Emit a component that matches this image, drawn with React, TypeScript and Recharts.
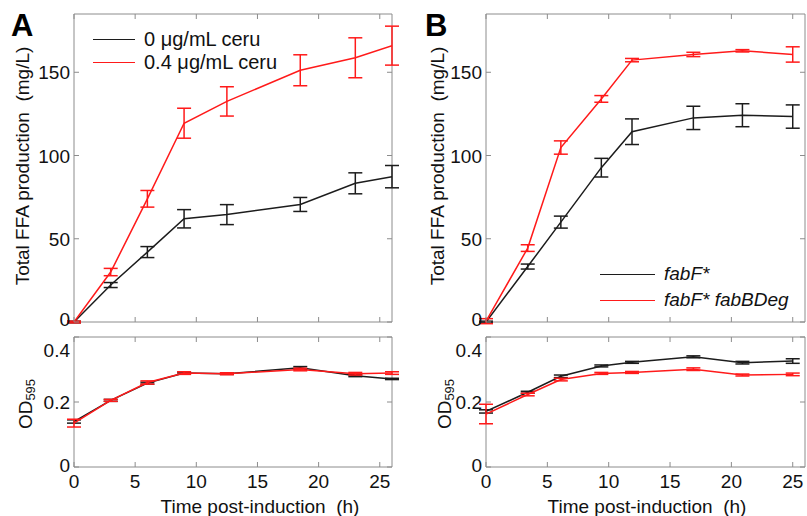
import { ErrorBar, Label, Legend, Line, LineChart, ReferenceArea, XAxis, YAxis } from "recharts";

const FONT = '"Liberation Sans", Arial, Helvetica, sans-serif';
const BOX = "#8c8c8c";
const BLACK = "#1c1c1c";
const RED = "#ff1a1a";

// panel A: cerulenin dose
const timesA = [0, 3, 6, 9, 12.5, 18.5, 23, 26];
const ffaA0 = [0, 22.2, 42, 62, 64.5, 70.6, 83.3, 87.3];
const ffaA0Err = [0.5, 1.5, 3.3, 5.5, 6, 4.2, 6.3, 6.7];
const ffaA04 = [0, 30, 74, 119.4, 132.5, 151.2, 158.7, 166];
const ffaA04Err = [0.5, 2.2, 5, 9, 8.8, 9.3, 12, 11.7];
const odA0 = [0.14, 0.205, 0.258, 0.289, 0.287, 0.305, 0.281, 0.271];
const odA0Err = [0.005, 0.003, 0.003, 0.003, 0.002, 0.004, 0.003, 0.002];
const odA04 = [0.135, 0.205, 0.26, 0.289, 0.287, 0.3, 0.287, 0.289];
const odA04Err = [0.012, 0.003, 0.005, 0.004, 0.003, 0.004, 0.004, 0.004];

// panel B: fabF* vs fabF* fabBDeg
const timesB = [0, 3.4, 6.1, 9.4, 11.9, 16.9, 20.9, 25];
const ffaB = [0, 33.3, 60, 92.7, 114.3, 122.6, 124.2, 123.4];
const ffaBErr = [0.5, 1.5, 3.6, 5.6, 7.7, 7, 6.9, 7];
const ffaBDeg = [0.5, 44.4, 104.8, 134, 157.3, 160.7, 162.9, 160.7];
const ffaBDegErr = [1.5, 2, 4, 2, 1, 1.3, 0.7, 4.6];
const odB = [0.171, 0.23, 0.279, 0.311, 0.322, 0.339, 0.321, 0.326];
const odBErr = [0.005, 0.003, 0.004, 0.003, 0.003, 0.003, 0.004, 0.007];
const odBDeg = [0.163, 0.223, 0.269, 0.288, 0.291, 0.301, 0.283, 0.285];
const odBDegErr = [0.03, 0.004, 0.004, 0.003, 0.003, 0.004, 0.003, 0.004];

const xTicks = [0, 5, 10, 15, 20, 25];
const ffaTicks = [0, 50, 100, 150];
const odTicks = [0, 0.2, 0.4];

const legendA = ["0 μg/mL ceru", "0.4 μg/mL ceru"];
const legendB = ["fabF*", "fabF* fabBDeg"];

type Row = { t: number; black: number; blackErr: number; red: number; redErr: number };

function toRows(times: number[], black: number[], blackErr: number[], red: number[], redErr: number[]): Row[] {
  return times.map((t, i) => ({ t, black: black[i], blackErr: blackErr[i], red: red[i], redErr: redErr[i] }));
}

type Geo = { w: number; h: number; px: number; py: number; pw: number; ph: number };

type PanelProps = {
  left: number;
  top: number;
  geo: Geo;
  data: Row[];
  names: string[];
  yDomain: [number, number];
  yTicks: number[];
  xLabels: boolean;
  yTitle: React.ReactNode;
  xTitle?: React.ReactNode;
  legend?: { x: number; y: number; row: number; line: number; size: number; italic: boolean };
  topLabelShift?: number;
  bottomLabelShift?: number;
};

function Panel({
  left,
  top,
  geo,
  data,
  names,
  yDomain,
  yTicks,
  xLabels,
  yTitle,
  xTitle,
  legend,
  topLabelShift = 0,
  bottomLabelShift = 0,
}: PanelProps) {
  const yAxisWidth = 50;
  const pb = geo.py + geo.ph;
  const pr = geo.px + geo.pw;
  const xAxisHeight = geo.h - pb;

  const renderXTick = (props: any) => {
    const { x, payload } = props;
    return (
      <g>
        <line x1={x} x2={x} y1={pb} y2={pb - 5} stroke={BOX} />
        <line x1={x} x2={x} y1={geo.py} y2={geo.py + 5} stroke={BOX} />
        {xLabels && (
          <text x={x} y={pb + 21} textAnchor="middle" fontSize={19} fontFamily={FONT} fill="#111">
            {payload.value}
          </text>
        )}
      </g>
    );
  };

  const renderYTick = (props: any) => {
    const { y, payload } = props;
    let shift = 0;
    if (payload.value === yTicks[yTicks.length - 1]) shift = topLabelShift;
    if (payload.value === yTicks[0]) shift = bottomLabelShift;
    return (
      <g>
        <line x1={geo.px} x2={geo.px + 5} y1={y} y2={y} stroke={BOX} />
        <line x1={pr} x2={pr - 5} y1={y} y2={y} stroke={BOX} />
        <text x={geo.px - 4} y={y + 7 + shift} textAnchor="end" fontSize={19} fontFamily={FONT} fill="#111">
          {payload.value}
        </text>
      </g>
    );
  };

  return (
    <div style={{ position: "absolute", left, top, width: geo.w, height: geo.h }}>
      <LineChart
        width={geo.w}
        height={geo.h}
        data={data}
        margin={{ top: geo.py, left: geo.px - yAxisWidth, right: geo.w - pr, bottom: 0 }}
      >
        <XAxis
          type="number"
          dataKey="t"
          domain={[0, 26]}
          ticks={xTicks}
          interval={0}
          height={xAxisHeight}
          axisLine={false}
          tickLine={false}
          tick={renderXTick}
          allowDataOverflow
        >
          {xTitle && <Label content={() => xTitle} />}
        </XAxis>
        <YAxis
          type="number"
          domain={yDomain}
          ticks={yTicks}
          interval={0}
          width={yAxisWidth}
          axisLine={false}
          tickLine={false}
          tick={renderYTick}
          allowDataOverflow
        >
          <Label content={() => yTitle} />
        </YAxis>
        <ReferenceArea x1={0} x2={26} y1={yDomain[0]} y2={yDomain[1]} fill="none" stroke={BOX} strokeWidth={1} />
        <Line
          dataKey="black"
          name={names[0]}
          stroke={BLACK}
          strokeWidth={1.5}
          dot={false}
          activeDot={false}
          isAnimationActive={false}
        >
          <ErrorBar dataKey="blackErr" direction="y" width={7} stroke={BLACK} strokeWidth={1.5} isAnimationActive={false} />
        </Line>
        <Line
          dataKey="red"
          name={names[1]}
          stroke={RED}
          strokeWidth={1.5}
          dot={false}
          activeDot={false}
          isAnimationActive={false}
        >
          <ErrorBar dataKey="redErr" direction="y" width={7} stroke={RED} strokeWidth={1.5} isAnimationActive={false} />
        </Line>
        {legend && (
          <Legend
            layout="vertical"
            align="center"
            verticalAlign="middle"
            wrapperStyle={{ left: legend.x, top: legend.y, width: 260, height: legend.row * 2 }}
            content={(props: any) => (
              <div style={{ fontFamily: FONT, fontSize: legend.size, color: "#111" }}>
                {(props.payload || []).map((entry: any) => (
                  <div key={entry.value} style={{ display: "flex", alignItems: "center", height: legend.row }}>
                    <span style={{ width: legend.line, borderTop: `1.5px solid ${entry.color}`, marginRight: 9 }} />
                    <span style={{ fontStyle: legend.italic ? "italic" : "normal", whiteSpace: "nowrap" }}>{entry.value}</span>
                  </div>
                ))}
              </div>
            )}
          />
        )}
      </LineChart>
    </div>
  );
}

function RotTitle({ x, y, text }: { x: number; y: number; text: string }) {
  return (
    <text
      transform={`translate(${x}, ${y}) rotate(-90)`}
      textAnchor="middle"
      dominantBaseline="central"
      fontSize={19}
      fontFamily={FONT}
      fill="#111"
      style={{ whiteSpace: "pre" }}
    >
      {text}
    </text>
  );
}

function OdTitle({ x, y }: { x: number; y: number }) {
  return (
    <text
      transform={`translate(${x}, ${y}) rotate(-90)`}
      textAnchor="middle"
      dominantBaseline="central"
      fontSize={19}
      fontFamily={FONT}
      fill="#111"
    >
      <tspan>OD</tspan>
      <tspan fontSize={13} dy={5}>
        595
      </tspan>
    </text>
  );
}

function TimeTitle({ x, y }: { x: number; y: number }) {
  return (
    <text x={x} y={y} textAnchor="middle" fontSize={19} fontFamily={FONT} fill="#111" style={{ whiteSpace: "pre" }}>
      {"Time post-induction  (h)"}
    </text>
  );
}

const topA: Geo = { w: 400, h: 330, px: 74, py: 14, pw: 318, ph: 308 };
const botA: Geo = { w: 400, h: 186, px: 74, py: 7, pw: 318, ph: 130 };
const topB: Geo = { w: 407, h: 330, px: 86, py: 14, pw: 319, ph: 308 };
const botB: Geo = { w: 407, h: 186, px: 86, py: 7, pw: 319, ph: 130 };

export default function App() {
  const ffaDataA = toRows(timesA, ffaA0, ffaA0Err, ffaA04, ffaA04Err);
  const odDataA = toRows(timesA, odA0, odA0Err, odA04, odA04Err);
  const ffaDataB = toRows(timesB, ffaB, ffaBErr, ffaBDeg, ffaBDegErr);
  const odDataB = toRows(timesB, odB, odBErr, odBDeg, odBDegErr);

  const letter: React.CSSProperties = {
    position: "absolute",
    top: 10,
    fontFamily: FONT,
    fontWeight: 700,
    fontSize: 31,
    lineHeight: "31px",
    color: "#000",
  };

  return (
    <div style={{ position: "absolute", left: 0, top: 0, width: 807, height: 516, background: "#fff", overflow: "hidden" }}>
      <Panel
        left={0}
        top={0}
        geo={topA}
        data={ffaDataA}
        names={legendA}
        yDomain={[0, 185]}
        yTicks={ffaTicks}
        xLabels={false}
        bottomLabelShift={-3}
        yTitle={<RotTitle x={22} y={166} text="Total FFA production  (mg/L)" />}
        legend={{ x: 93, y: 28, row: 23, line: 42, size: 20, italic: false }}
      />
      <Panel
        left={0}
        top={330}
        geo={botA}
        data={odDataA}
        names={legendA}
        yDomain={[0, 0.4]}
        yTicks={odTicks}
        xLabels
        topLabelShift={13}
        bottomLabelShift={-2}
        yTitle={<OdTitle x={25} y={74} />}
        xTitle={<TimeTitle x={260} y={183} />}
      />
      <Panel
        left={400}
        top={0}
        geo={topB}
        data={ffaDataB}
        names={legendB}
        yDomain={[0, 185]}
        yTicks={ffaTicks}
        xLabels={false}
        bottomLabelShift={-3}
        yTitle={<RotTitle x={37.5} y={166} text="Total FFA production  (mg/L)" />}
        legend={{ x: 200, y: 261, row: 26, line: 55, size: 19, italic: true }}
      />
      <Panel
        left={400}
        top={330}
        geo={botB}
        data={odDataB}
        names={legendB}
        yDomain={[0, 0.4]}
        yTicks={odTicks}
        xLabels
        topLabelShift={13}
        bottomLabelShift={-2}
        yTitle={<OdTitle x={44} y={74} />}
        xTitle={<TimeTitle x={247} y={183} />}
      />
      <div style={{ ...letter, left: 11 }}>A</div>
      <div style={{ ...letter, left: 425 }}>B</div>
    </div>
  );
}
